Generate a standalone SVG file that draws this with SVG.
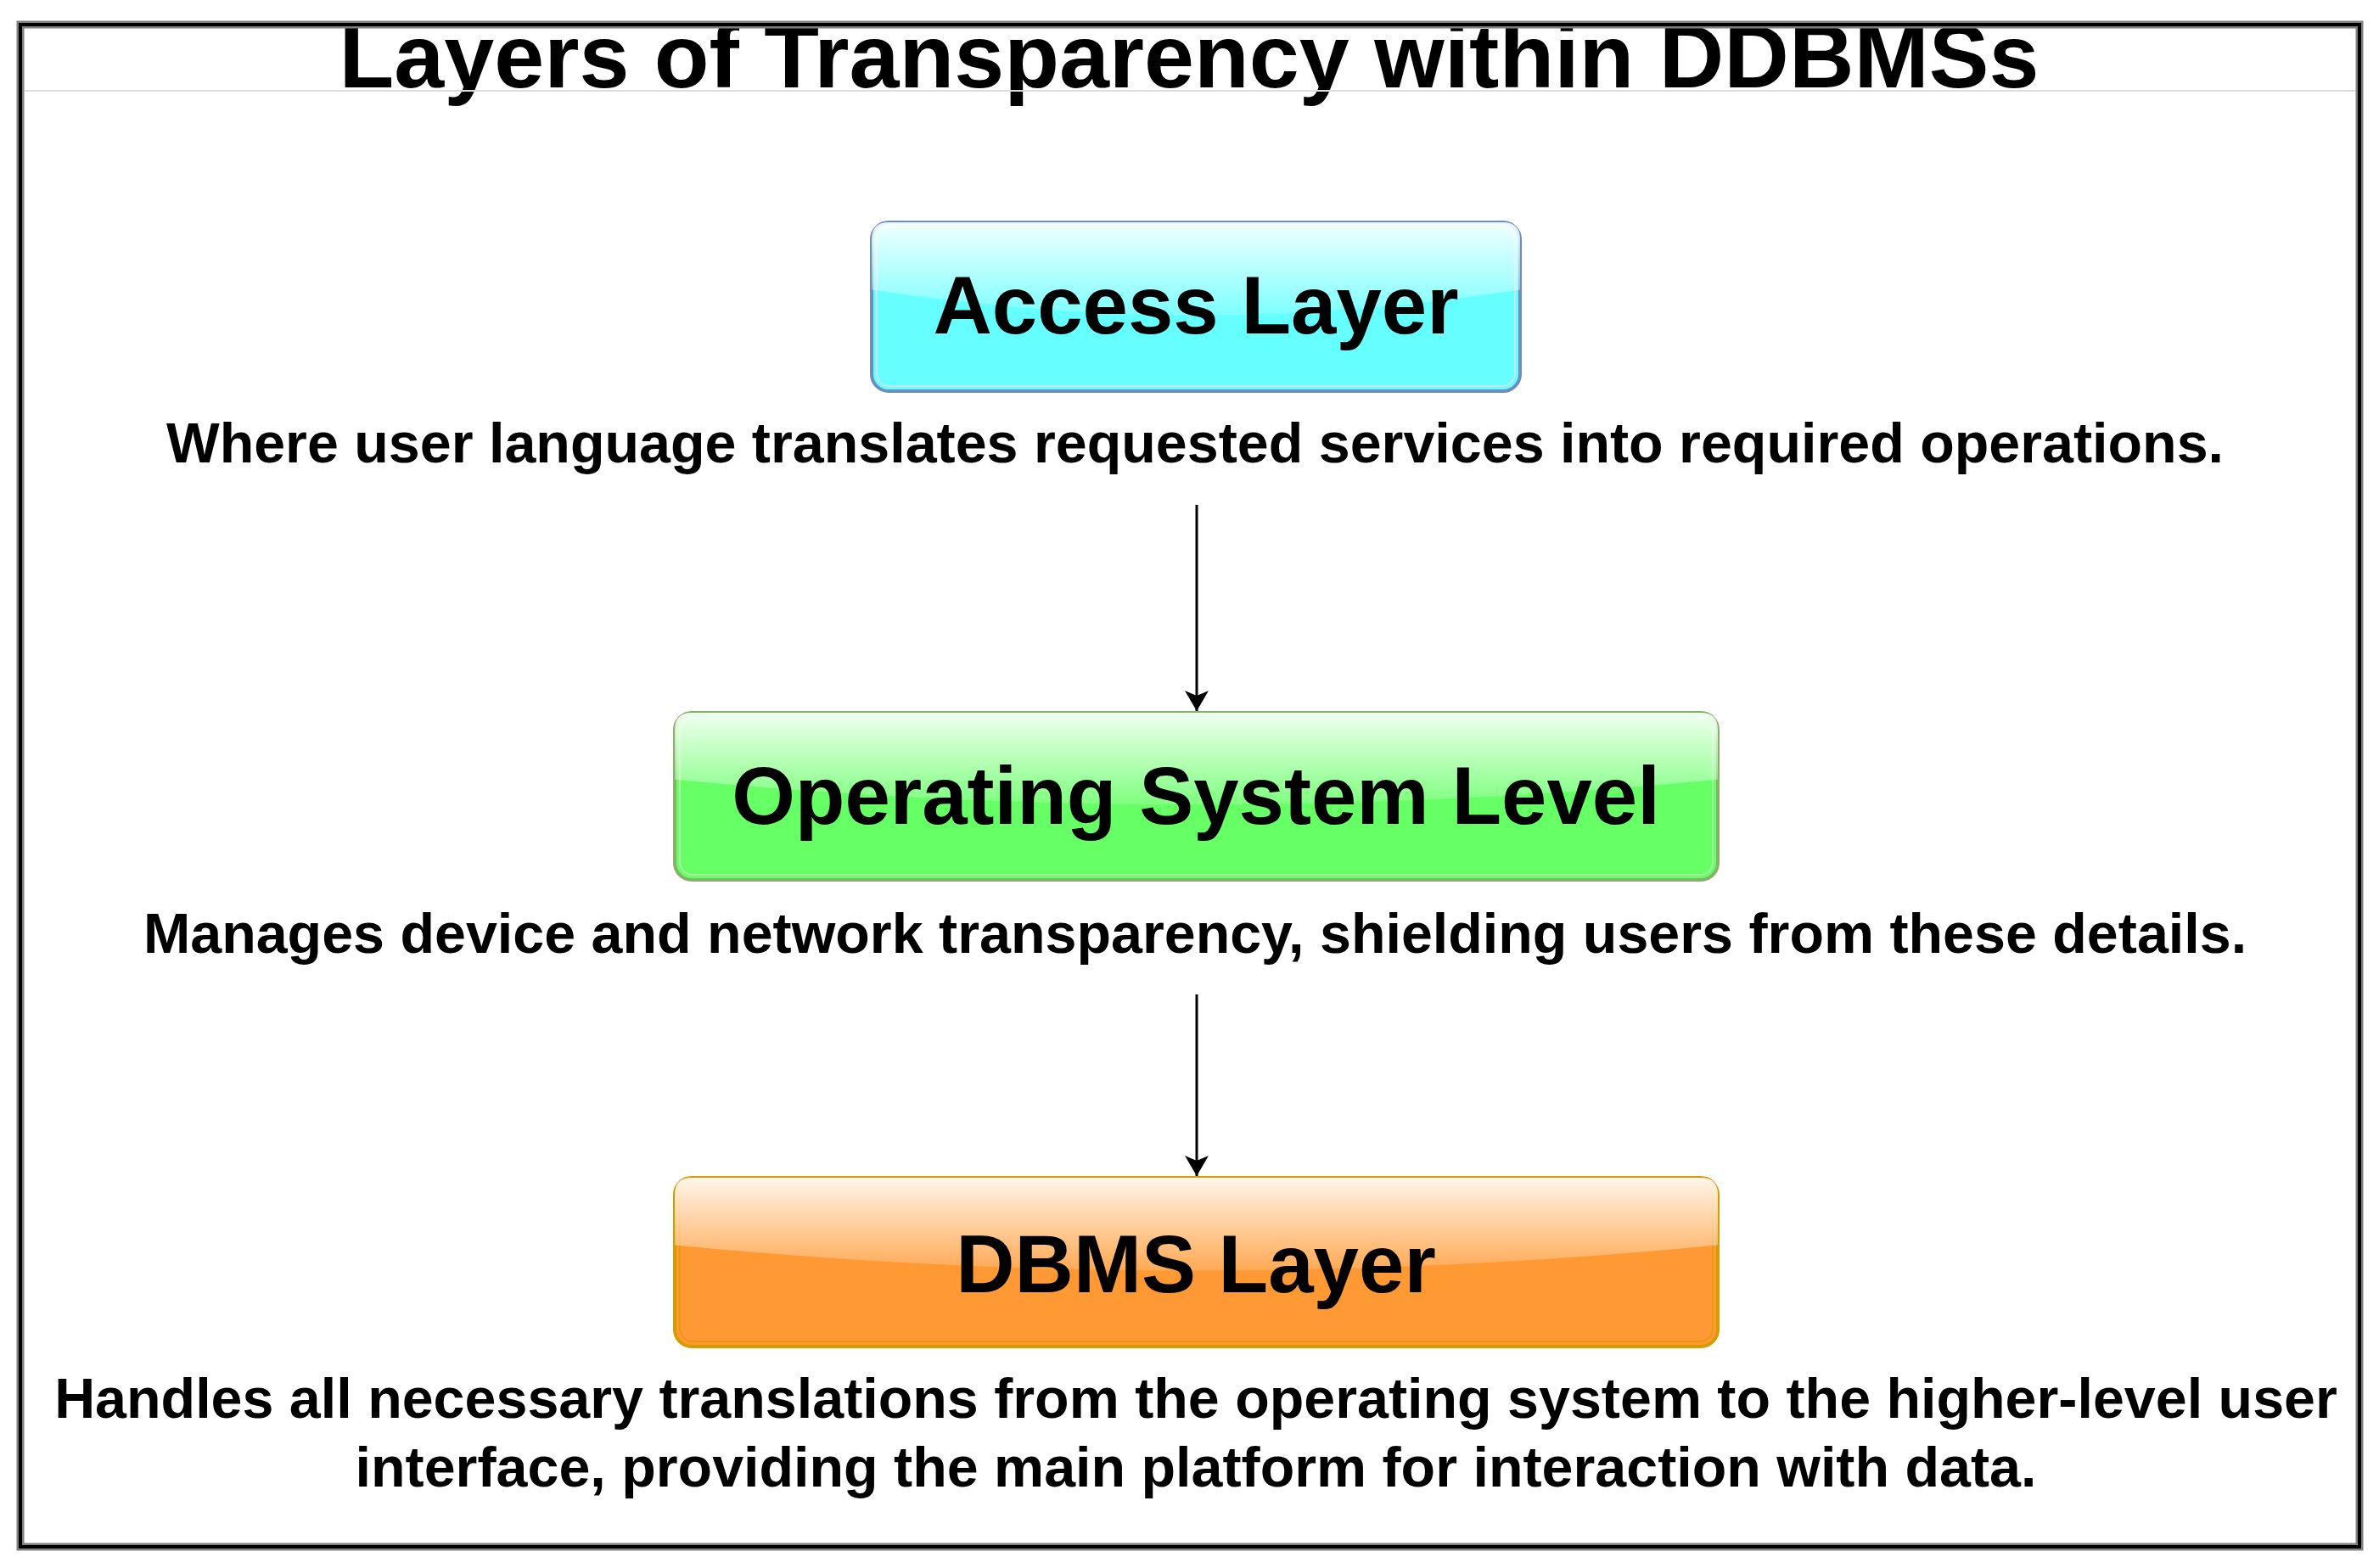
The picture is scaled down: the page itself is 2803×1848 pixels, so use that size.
<svg xmlns="http://www.w3.org/2000/svg" width="2803" height="1848" viewBox="0 0 2803 1848">
  <style>
    text { font-family: "Liberation Sans", Arial, sans-serif; font-weight: bold; fill: #000; text-anchor: middle; }
    .title { font-size: 106px; }
    .label { font-size: 96px; }
    .desc { font-size: 66.4px; }
    .conn { stroke: #000; stroke-width: 3; fill: none; }
  </style>
  <defs>
    <linearGradient id="glass" x1="0" y1="0" x2="0" y2="1.09">
      <stop offset="0" stop-color="#fff" stop-opacity="0.9"/>
      <stop offset="1" stop-color="#fff" stop-opacity="0.1"/>
    </linearGradient>
    <marker id="arrow" markerUnits="userSpaceOnUse" markerWidth="30" markerHeight="30" refX="24" refY="14" orient="auto">
      <path d="M0,0 L24,14 L0,28 L6,14 Z" fill="#000"/>
    </marker>
    <clipPath id="inner">
      <rect x="29" y="33" width="2747" height="1786"/>
    </clipPath>
  </defs>

  <rect x="0" y="0" width="2803" height="1848" fill="#fff"/>

  <g id="frame">
    <text class="title" x="1401" y="103" clip-path="url(#inner)">Layers of Transparency within DDBMSs</text>
    <line x1="29" y1="107" x2="2777" y2="107" stroke="#dddddd" stroke-width="2"/>
    <rect x="24" y="29" width="2756" height="1794" fill="none" stroke="#808080" stroke-width="9"/>
    <rect x="24" y="29" width="2756" height="1794" fill="none" stroke="#000" stroke-width="4"/>
  </g>

  <g id="access-layer">
    <rect x="1027" y="262" width="764" height="199" rx="20" fill="#66FFFF" stroke="#6c8ebf" stroke-width="4"/>
    <rect x="1033" y="268" width="752" height="187" rx="15" fill="none" stroke="#c8e2f2" stroke-width="2"/>
    <path d="M1047,262 Q1027,262 1027,282 L1027,341.6 Q1409,401.3 1791,341.6 L1791,282 Q1791,262 1771,262 Z" fill="url(#glass)"/>
    <text class="label" x="1409" y="393">Access Layer</text>
  </g>
  <g id="access-desc">
    <text class="desc" x="1408" y="545">Where user language translates requested services into required operations.</text>
  </g>

  <g id="os-level">
    <rect x="795" y="840" width="1229" height="197" rx="20" fill="#66FF66" stroke="#82b366" stroke-width="4"/>
    <rect x="801" y="846" width="1217" height="185" rx="15" fill="none" stroke="#a8f0a0" stroke-width="2"/>
    <path d="M815,840 Q795,840 795,860 L795,918.8 Q1409.5,977.9 2024,918.8 L2024,860 Q2024,840 2004,840 Z" fill="url(#glass)"/>
    <text class="label" x="1409" y="971">Operating System Level</text>
  </g>
  <g id="os-desc">
    <text class="desc" x="1408" y="1123">Manages device and network transparency, shielding users from these details.</text>
  </g>

  <g id="dbms-layer">
    <rect x="795" y="1388" width="1229" height="199" rx="20" fill="#FF9933" stroke="#d79b00" stroke-width="4"/>
    <rect x="801" y="1394" width="1217" height="187" rx="15" fill="none" stroke="#e89a10" stroke-width="2"/>
    <path d="M815,1388 Q795,1388 795,1408 L795,1467.6 Q1409.5,1527.3 2024,1467.6 L2024,1408 Q2024,1388 2004,1388 Z" fill="url(#glass)"/>
    <text class="label" x="1409" y="1523">DBMS Layer</text>
  </g>
  <g id="dbms-desc">
    <text class="desc" x="1409" y="1671">Handles all necessary translations from the operating system to the higher-level user</text>
    <text class="desc" x="1409" y="1752">interface, providing the main platform for interaction with data.</text>
  </g>

  <g id="connectors">
    <line class="conn" x1="1410" y1="595" x2="1410" y2="838" marker-end="url(#arrow)"/>
    <line class="conn" x1="1410" y1="1172" x2="1410" y2="1386" marker-end="url(#arrow)"/>
  </g>
</svg>
